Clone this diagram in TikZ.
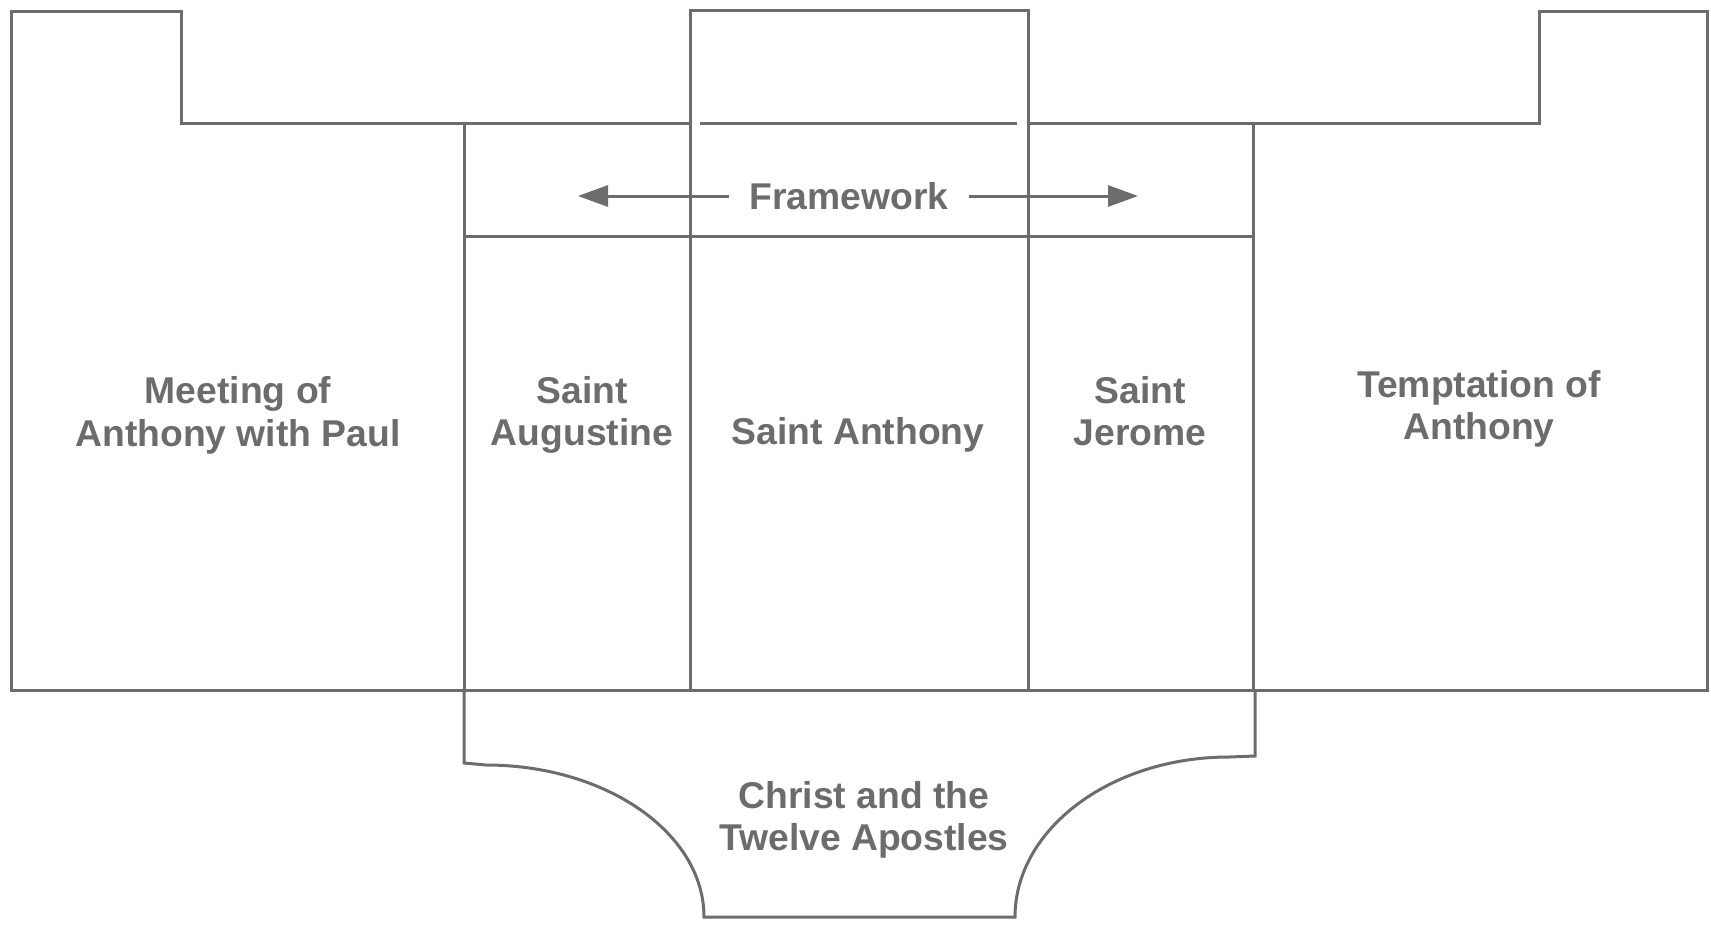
\documentclass[tikz,border=0pt]{standalone}
\usepackage{fontspec}
\setmainfont{Liberation Sans}
\usetikzlibrary{arrows.meta}
\definecolor{ink}{HTML}{6C6C6C}
\tikzset{
  frame/.style={draw=ink, line width=3pt, line join=miter},
  label/.style={text=ink, font=\fontsize{37.3}{42.6}\selectfont\bfseries, align=center, inner sep=0pt},
  fwarrow/.style={draw=ink, line width=3pt, -{Triangle[length=30pt,width=21pt]}}
}
\begin{document}
\begin{tikzpicture}[x=1pt,y=-1pt]
\useasboundingbox (0,0) rectangle (1711,924);
% outer outline
\draw[frame] (690,123) -- (181,123) -- (181,11) -- (11,11) -- (11,690)
  -- (1707,690) -- (1707,11) -- (1539,11) -- (1539,123) -- (1028,123);
% centre tall panel
\draw[frame] (690,690) -- (690,10) -- (1028,10) -- (1028,690);
\draw[frame] (700,123) -- (1017,123);
% framework band and side panels
\draw[frame] (464,123) -- (464,690);
\draw[frame] (1253,123) -- (1253,690);
\draw[frame] (464,236) -- (1253,236);
% bottom predella
\draw[frame] (464,690) -- (464,763) -- (486,765)
  .. controls (606,765) and (704,833) .. (704,917)
  -- (1015,917)
  .. controls (1015,829) and (1111,757) .. (1229,757)
  -- (1255,756) -- (1255,690);
% labels
\node[label] (meet) at (238,415.5) {Meeting of\\Anthony with Paul};
\node[label] (aug) at (582,415) {Saint\\Augustine};
\node[label] (ant) at (858,435) {Saint Anthony};
\node[label] (jer) at (1140,411) {Saint\\Jerome};
\node[label] (tempt) at (1479,409) {Temptation of\\Anthony};
\node[label] (christ) at (864,820) {Christ and the\\Twelve Apostles};
\node[label, inner xsep=20pt] (fw) at (849,196) {Framework};
\coordinate (ltip) at (578,196);
\coordinate (rtip) at (1138,196);
\draw[fwarrow] (fw.west) -- (ltip);
\draw[fwarrow] (fw.east) -- (rtip);
\end{tikzpicture}
\end{document}
